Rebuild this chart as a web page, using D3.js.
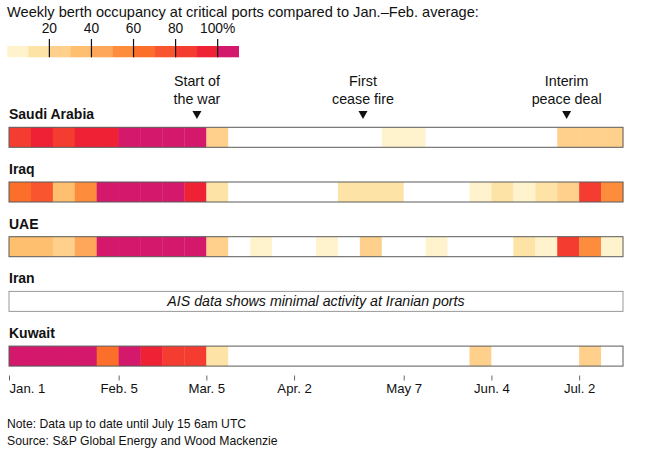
<!DOCTYPE html>
<html>
<head>
<meta charset="utf-8">
<script src="https://cdn.jsdelivr.net/npm/d3@7"></script>
<style>
  html, body { margin: 0; padding: 0; background: #fff; }
  svg { display: block; font-family: "Liberation Sans", Arial, sans-serif; }
</style>
</head>
<body>
<svg id="chart" width="650" height="458"></svg>
<script>
// ---- data ----
const countries = ["Saudi Arabia", "Iraq", "UAE", "Iran", "Kuwait"];
// weekly berth occupancy (% of Jan.–Feb. average), 28 weeks starting Jan. 1; 0 = no activity
const saudiArabia = [86, 94, 85, 93, 95, 118, 125, 120, 112, 26, 0, 0, 0, 0, 0, 0, 0, 6, 7, 0, 0, 0, 0, 0, 0, 27, 24, 25];
const iraq        = [66, 74, 36, 55, 115, 122, 118, 108, 94, 14, 0, 0, 0, 0, 0, 16, 14, 15, 0, 0, 0, 6, 16, 5, 15, 27, 86, 57];
const uae         = [35, 37, 24, 46, 112, 120, 125, 119, 110, 26, 0, 5, 0, 0, 6, 0, 25, 0, 0, 5, 0, 0, 0, 16, 7, 84, 56, 6];
const iran        = null; // minimal AIS activity
const kuwait      = [115, 120, 118, 112, 64, 105, 96, 86, 84, 15, 0, 0, 0, 0, 0, 0, 0, 0, 0, 0, 0, 26, 0, 0, 0, 0, 25, 0];
const seriesValues = [saudiArabia, iraq, uae, iran, kuwait];
const iranNote = "AIS data shows minimal activity at Iranian ports";

const legendTicks = [20, 40, 60, 80, 100];
const legendTickLabels = ["20", "40", "60", "80", "100%"];
const legendBins = [10, 20, 30, 40, 50, 60, 70, 80, 90, 100];
const binColors = ["#fff3cd", "#fee3a6", "#fed08c", "#febf6e", "#fea75a", "#fd8d3c",
                   "#fc6f2a", "#f9552f", "#f43d30", "#ef2135", "#d4186c"];

const axisTickDates = ["2026-01-01", "2026-02-05", "2026-03-05", "2026-04-02", "2026-05-07", "2026-06-04", "2026-07-02"];
const axisTickLabels = ["Jan. 1", "Feb. 5", "Mar. 5", "Apr. 2", "May 7", "Jun. 4", "Jul. 2"];

const eventDates = ["2026-03-02", "2026-04-24", "2026-06-28"];
const eventLabels = [["Start of", "the war"], ["First", "cease fire"], ["Interim", "peace deal"]];

const title = "Weekly berth occupancy at critical ports compared to Jan.\u2013Feb. average:";
const notes = ["Note: Data up to date until July 15 6am UTC", "Source: S&P Global Energy and Wood Mackenzie"];

// ---- setup ----
const svg = d3.select("#chart");
const parse = d3.utcParse("%Y-%m-%d");
const start = parse("2026-01-01");
const nWeeks = saudiArabia.length;
const end = d3.utcDay.offset(start, nWeeks * 7);
const weeks = d3.range(nWeeks).map(i => d3.utcDay.offset(start, i * 7));

const x = d3.scaleUtc().domain([start, end]).range([9, 623]);
const y = d3.scaleBand().domain(countries).range([109.3, 109.3 + 54.7 * countries.length]);
const color = d3.scaleThreshold().domain(legendBins).range(binColors);
const barTop = 18, barH = 20;

// title
svg.append("text").attr("x", 7).attr("y", 17).attr("font-size", 14.6).attr("fill", "#111").text(title);

// legend
const lx = d3.scaleLinear().domain([0, 110]).range([7.3, 238.7]);
const lg = svg.append("g");
lg.selectAll("rect").data(binColors).join("rect")
  .attr("x", (d, i) => lx(i * 10)).attr("y", 46)
  .attr("width", lx(10) - lx(0) + 0.3).attr("height", 11.3)
  .attr("fill", d => d);
lg.selectAll("line").data(legendTicks).join("line")
  .attr("x1", d => lx(d)).attr("x2", d => lx(d))
  .attr("y1", 39).attr("y2", 57.3)
  .attr("stroke", "#111").attr("stroke-width", 1.2);
lg.selectAll("text").data(legendTicks).join("text")
  .attr("x", d => lx(d)).attr("y", 33).attr("text-anchor", "middle")
  .attr("font-size", 13.8).attr("fill", "#111")
  .text((d, i) => legendTickLabels[i]);

// event annotations
const ev = svg.append("g");
eventDates.forEach((ds, i) => {
  const cx = x(parse(ds));
  const t = ev.append("text").attr("text-anchor", "middle").attr("font-size", 14.3).attr("fill", "#111");
  eventLabels[i].forEach((line, j) => {
    t.append("tspan").attr("x", cx).attr("y", 86 + j * 17.5).text(line);
  });
  ev.append("path")
    .attr("d", `M${cx - 4.5},111 L${cx + 4.5},111 L${cx},119 Z`)
    .attr("fill", "#111");
});

// rows
countries.forEach((c, ci) => {
  const gy = y(c);
  const g = svg.append("g").attr("transform", `translate(0,${gy})`);
  g.append("text").attr("x", 9).attr("y", 10).attr("font-size", 14)
    .attr("font-weight", "bold").attr("fill", "#111").text(c);
  const vals = seriesValues[ci];
  if (vals) {
    g.selectAll("rect.cell").data(weeks).join("rect").attr("class", "cell")
      .attr("x", d => x(d))
      .attr("y", barTop)
      .attr("width", d => x(d3.utcDay.offset(d, 7)) - x(d) + 0.3)
      .attr("height", barH)
      .attr("fill", (d, i) => vals[i] > 0 ? color(vals[i]) : "#fff");
    g.append("rect").attr("x", x(start)).attr("y", barTop)
      .attr("width", x(end) - x(start)).attr("height", barH)
      .attr("fill", "none").attr("stroke", "#5a5a5a").attr("stroke-width", 1);
  } else {
    g.append("rect").attr("x", x(start)).attr("y", barTop)
      .attr("width", x(end) - x(start)).attr("height", barH)
      .attr("fill", "#fff").attr("stroke", "#999").attr("stroke-width", 1);
    g.append("text").attr("x", (x(start) + x(end)) / 2).attr("y", barTop + 14.5)
      .attr("text-anchor", "middle").attr("font-size", 14.2).attr("font-style", "italic")
      .attr("fill", "#111").text(iranNote);
  }
});

// x axis
const axis = d3.axisBottom(x)
  .tickValues(axisTickDates.map(parse))
  .tickFormat((d, i) => axisTickLabels[i])
  .tickSize(5).tickPadding(3.5);
const ag = svg.append("g").attr("transform", "translate(0,375.5)").call(axis);
ag.select(".domain").remove();
ag.selectAll(".tick line").attr("stroke", "#666");
ag.selectAll(".tick text").attr("font-size", 13.2).attr("fill", "#111")
  .attr("font-family", "'Liberation Sans', Arial, sans-serif");
ag.select(".tick text").attr("text-anchor", "start").attr("x", 0);

// notes
svg.selectAll("text.note").data(notes).join("text").attr("class", "note")
  .attr("x", 7).attr("y", (d, i) => 428 + i * 16.5)
  .attr("font-size", 12.2).attr("fill", "#111").text(d => d);
</script>
</body>
</html>
